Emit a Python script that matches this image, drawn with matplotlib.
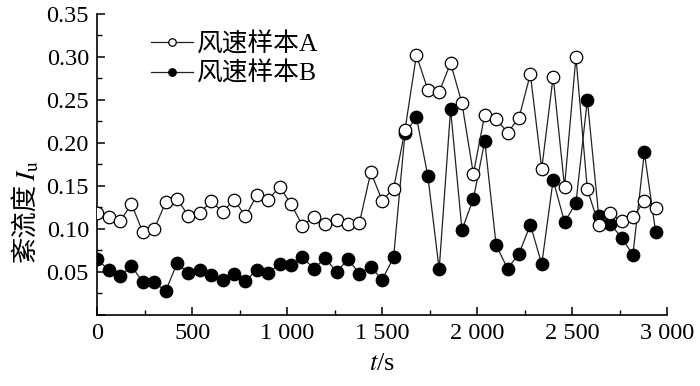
import matplotlib
matplotlib.use("Agg")
import matplotlib.pyplot as plt
from matplotlib.ticker import MultipleLocator, FuncFormatter

plt.rcParams["mathtext.fontset"] = "stix"

t = [0, 60, 120, 180, 240, 300, 360, 420, 480, 540,
     600, 660, 720, 780, 840, 900, 960, 1020, 1080, 1140,
     1200, 1260, 1320, 1380, 1440, 1500, 1560, 1620, 1680, 1740,
     1800, 1860, 1920, 1980, 2040, 2100, 2160, 2220, 2280, 2340,
     2400, 2460, 2520, 2580, 2640, 2700, 2760, 2820, 2880, 2940]

sample_a = [0.118, 0.114, 0.109, 0.129, 0.096, 0.100, 0.131, 0.135, 0.115, 0.119,
            0.132, 0.120, 0.134, 0.115, 0.139, 0.134, 0.149, 0.129, 0.104, 0.114,
            0.106, 0.110, 0.106, 0.107, 0.166, 0.133, 0.147, 0.215, 0.302, 0.262,
            0.259, 0.293, 0.246, 0.164, 0.233, 0.228, 0.212, 0.229, 0.280, 0.170,
            0.277, 0.149, 0.300, 0.146, 0.105, 0.118, 0.109, 0.114, 0.132, 0.124]

sample_b = [0.065, 0.052, 0.045, 0.057, 0.038, 0.038, 0.028, 0.060, 0.049, 0.052,
            0.047, 0.041, 0.048, 0.040, 0.052, 0.049, 0.059, 0.058, 0.067, 0.054,
            0.066, 0.050, 0.065, 0.048, 0.056, 0.041, 0.067, 0.211, 0.230, 0.162,
            0.053, 0.239, 0.099, 0.135, 0.202, 0.081, 0.054, 0.071, 0.105, 0.059,
            0.157, 0.108, 0.130, 0.250, 0.115, 0.106, 0.090, 0.070, 0.189, 0.096]

labels = ["风速样本A", "风速样本B"]
x_ticks = [0, 500, 1000, 1500, 2000, 2500, 3000]
x_tick_labels = ["0", "500", "1 000", "1 500", "2 000", "2 500", "3 000"]
y_label_cjk = "紊流度"
y_label_sym = "$I_{\\mathrm{u}}$"

serif = ["Liberation Serif", "DejaVu Serif"]
mixed = ["Liberation Serif", "Noto Sans CJK SC"]
cjk = ["Noto Sans CJK SC", "DejaVu Sans"]

fig = plt.figure(figsize=(7.0, 3.86), dpi=100)
ax = fig.add_axes([0.139, 0.184, 0.814, 0.780])

ax.plot(t, sample_a, color="#222222", lw=0.9, marker="o", ms=9.0,
        mfc="white", mec="black", mew=0.9, label=labels[0], zorder=3)
ax.plot(t, sample_b, color="#222222", lw=0.9, marker="o", ms=9.0,
        mfc="black", mec="black", mew=0.9, label=labels[1], zorder=2)

ax.set_xlim(0, 3000)
ax.set_ylim(0, 0.35)
ax.set_xticks(x_ticks)
ax.set_xticklabels(x_tick_labels)
ax.xaxis.set_minor_locator(MultipleLocator(250))
ax.yaxis.set_major_locator(MultipleLocator(0.05))
ax.yaxis.set_minor_locator(MultipleLocator(0.025))
ax.yaxis.set_major_formatter(FuncFormatter(lambda v, p: f"{v:.2f}" if v > 1e-9 else ""))

for s in ["top", "right"]:
    ax.spines[s].set_visible(False)
for s in ["left", "bottom"]:
    ax.spines[s].set_linewidth(1.2)

ax.tick_params(which="major", direction="in", length=6, width=1.1, labelsize=17.5, pad=6)
ax.tick_params(which="minor", direction="in", length=3.5, width=1.0)
for lab in ax.get_xticklabels() + ax.get_yticklabels():
    lab.set_family(serif)

ax.set_xlabel("$t$/s", fontsize=19, family=serif, labelpad=6)

# y label: Chinese part + symbol part, stacked along the rotated direction
cjk_txt = fig.text(25 / 700, 1 - 222 / 386, y_label_cjk, rotation=90, fontsize=19,
                   family=cjk, ha="center", va="center")
fig.canvas.draw()
bb = cjk_txt.get_window_extent(renderer=fig.canvas.get_renderer())
fig.text(27 / 700, (bb.y1 + 1) / fig.bbox.height, y_label_sym, rotation=90,
         fontsize=20, ha="center", va="bottom")

leg = ax.legend(loc="upper left", bbox_to_anchor=(0.068, 0.99), frameon=False,
                prop={"family": mixed, "size": 18.5}, handlelength=1.6,
                handletextpad=0.15, labelspacing=0.2, borderaxespad=0.2,
                markerscale=0.6)

fig.savefig("out.png", dpi=100)
